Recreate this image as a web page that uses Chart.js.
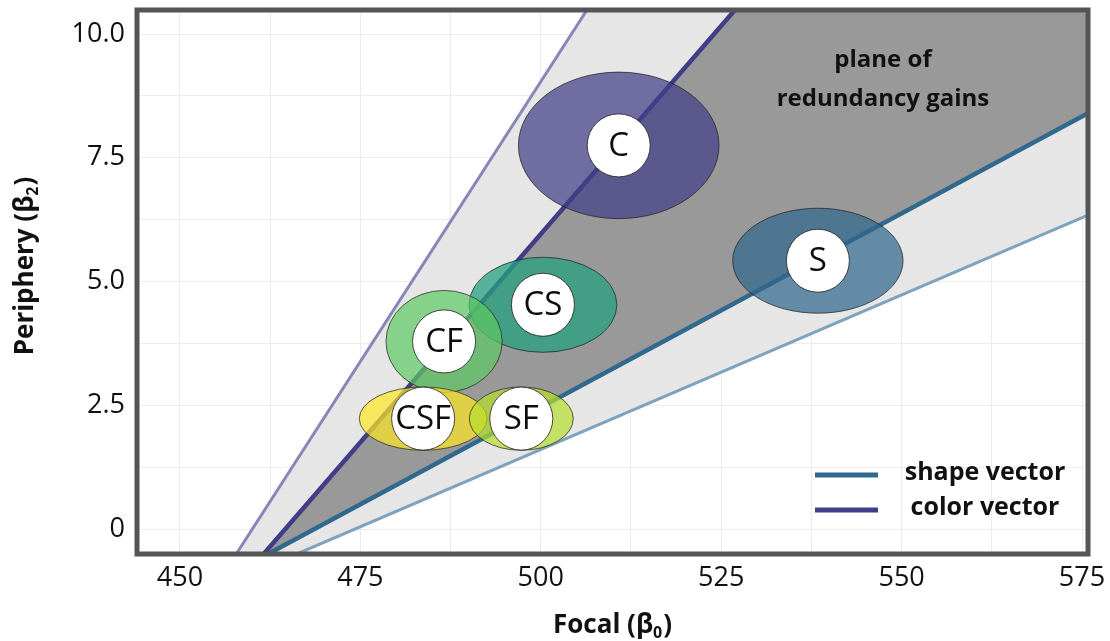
<!DOCTYPE html>
<html>
<head>
<meta charset="utf-8">
<title>Plane of redundancy gains</title>
<script src="https://cdn.jsdelivr.net/npm/chart.js@4/dist/chart.umd.min.js"></script>
<style>
  html, body { margin: 0; padding: 0; background: #fff; }
  #wrap { width: 1110px; height: 641px; }
</style>
</head>
<body>
<div id="wrap"><canvas id="chart"></canvas></div>
<script>
// axis extents: focal weight (β0) vs periphery weight (β2)
const xMin = 444.05, xMax = 575.83;
const yMin = -0.505, yMax = 10.485;

// tick labels
const xTickValues = [450, 475, 500, 525, 550, 575];
const yTickValues = [0, 2.5, 5, 7.5, 10];
const yTickLabels = ['0', '2.5', '5.0', '7.5', '10.0'];

// vectors and their outer bounds, [x, y] start and end
const colorVector = [[461.6, -0.505], [526.9, 10.485]];
const colorBound = [[457.8, -0.505], [506.4, 10.485]];
const shapeVector = [[462.2, -0.505], [575.83, 8.40]];
const shapeBound = [[466.2, -0.505], [575.83, 6.34]];

// conditions: centre and spread (semi-axes) in data units
const conditions = ['C', 'S', 'CS', 'CF', 'CSF', 'SF'];
const centerX = [510.8, 538.4, 500.3, 486.6, 483.7, 497.3];
const centerY = [7.75, 5.42, 4.53, 3.79, 2.23, 2.23];
const spreadX = [13.9, 11.8, 10.25, 8.05, 8.85, 7.2];
const spreadY = [1.48, 1.06, 0.96, 1.03, 0.64, 0.64];

const legendLabels = ['shape vector', 'color vector'];
const planeLabel = ['plane of', 'redundancy gains'];

const FONT = "'Open Sans', 'Noto Sans', sans-serif";
const ellipseColors = [
  'rgba(65, 62, 134, 0.72)',
  'rgba(49, 104, 142, 0.72)',
  'rgba(38, 160, 125, 0.75)',
  'rgba(94, 201, 98, 0.70)',
  'rgba(253, 231, 37, 0.70)',
  'rgba(181, 222, 43, 0.70)',
];
const SHAPE_COLOR = '#31688e';
const COLOR_COLOR = '#413d88';

const pts = (seg) => seg.map(([x, y]) => ({ x, y }));
const farCorner = { x: xMax + 5, y: yMax + 1 };

// label with a lowered digit, e.g. β₀
function drawSubscripted(ctx, [head, sub, tail], cx, baseY, size) {
  const big = `bold ${size}px ${FONT}`;
  const small = `bold ${Math.round(size * 0.62)}px ${FONT}`;
  ctx.font = big;
  const w1 = ctx.measureText(head).width;
  const w3 = ctx.measureText(tail).width;
  ctx.font = small;
  const w2 = ctx.measureText(sub).width + 1;
  let x = cx - (w1 + w2 + w3) / 2;
  ctx.textAlign = 'left';
  ctx.textBaseline = 'alphabetic';
  ctx.font = big;
  ctx.fillText(head, x, baseY);
  x += w1;
  ctx.font = small;
  ctx.fillText(sub, x, baseY + size * 0.18);
  x += w2;
  ctx.font = big;
  ctx.fillText(tail, x, baseY);
}

const conditionMarks = {
  id: 'conditionMarks',
  afterDatasetsDraw(chart) {
    const { ctx, chartArea: a, scales: { x, y } } = chart;
    ctx.save();
    ctx.beginPath();
    ctx.rect(a.left, a.top, a.width, a.height);
    ctx.clip();
    const spots = conditions.map((name, i) => {
      const cx = x.getPixelForValue(centerX[i]);
      const cy = y.getPixelForValue(centerY[i]);
      const rx = Math.abs(x.getPixelForValue(centerX[i] + spreadX[i]) - cx);
      const ry = Math.abs(y.getPixelForValue(centerY[i] + spreadY[i]) - cy);
      ctx.beginPath();
      ctx.ellipse(cx, cy, rx, ry, 0, 0, Math.PI * 2);
      ctx.fillStyle = ellipseColors[i];
      ctx.fill();
      ctx.lineWidth = 1;
      ctx.strokeStyle = 'rgba(30, 30, 30, 0.7)';
      ctx.stroke();
      return { name, cx, cy };
    });
    spots.forEach(({ name, cx, cy }) => {
      ctx.beginPath();
      ctx.arc(cx, cy, 31.5, 0, Math.PI * 2);
      ctx.fillStyle = '#fff';
      ctx.fill();
      ctx.lineWidth = 1;
      ctx.strokeStyle = 'rgba(30, 30, 30, 0.8)';
      ctx.stroke();
      ctx.fillStyle = '#0d0d0d';
      ctx.font = `33px ${FONT}`;
      ctx.textAlign = 'center';
      ctx.textBaseline = 'middle';
      ctx.fillText(name, cx, cy + 1);
    });
    ctx.restore();
  },
  afterDraw(chart) {
    const { ctx, chartArea: a } = chart;
    ctx.save();

    // frame
    ctx.lineWidth = 5;
    ctx.strokeStyle = '#555';
    ctx.strokeRect(a.left, a.top, a.right - a.left, a.bottom - a.top);

    // annotation
    ctx.fillStyle = '#111';
    ctx.font = `bold 24px ${FONT}`;
    ctx.textAlign = 'center';
    ctx.textBaseline = 'middle';
    ctx.fillText(planeLabel[0], a.right - 205, a.top + 50);
    ctx.fillText(planeLabel[1], a.right - 205, a.top + 89);

    // legend
    const legendColors = [SHAPE_COLOR, COLOR_COLOR];
    legendLabels.forEach((label, i) => {
      const ly = a.bottom - 79 + i * 35;
      ctx.beginPath();
      ctx.moveTo(a.right - 273, ly);
      ctx.lineTo(a.right - 210, ly);
      ctx.lineWidth = 5;
      ctx.strokeStyle = legendColors[i];
      ctx.stroke();
      ctx.font = `bold 25px ${FONT}`;
      ctx.fillText(label, a.right - 103, ly - 2);
    });

    // axis titles
    drawSubscripted(ctx, ['Focal (β', '0', ')'], (a.left + a.right) / 2, 633, 26);
    ctx.translate(33, (a.top + a.bottom) / 2 - 16);
    ctx.rotate(-Math.PI / 2);
    drawSubscripted(ctx, ['Periphery (β', '2', ')'], 0, 0, 26);
    ctx.restore();
  },
};

const lineSet = (label, seg, color, width, order) => ({
  label, data: pts(seg), borderColor: color, borderWidth: width, fill: false, order,
});

new Chart(document.getElementById('chart'), {
  type: 'line',
  data: {
    datasets: [
      lineSet('shape vector', shapeVector, SHAPE_COLOR, 4.5, 1),
      lineSet('color vector', colorVector, COLOR_COLOR, 4.5, 1),
      lineSet('shape bound', shapeBound, '#80a3bd', 3, 2),
      lineSet('color bound', colorBound, '#8985b7', 3, 2),
      {
        label: 'redundancy plane',
        data: [...pts(colorVector), farCorner, ...pts(shapeVector).reverse()],
        fill: 'shape', backgroundColor: '#999999', borderWidth: 0, order: 3,
      },
      {
        label: 'outer band',
        data: [...pts(colorBound), farCorner, ...pts(shapeBound).reverse()],
        fill: 'shape', backgroundColor: '#e6e6e6', borderWidth: 0, order: 4,
      },
    ],
  },
  options: {
    responsive: true,
    maintainAspectRatio: false,
    animation: false,
    layout: { padding: { left: 0, top: 10, right: 22, bottom: 0 } },
    elements: { point: { radius: 0, hoverRadius: 0 }, line: { tension: 0 } },
    plugins: { legend: { display: false }, tooltip: { enabled: false } },
    events: [],
    scales: {
      x: {
        type: 'linear',
        min: xMin,
        max: xMax,
        afterFit: (s) => {
          s.height = 87;
          s.paddingLeft = 0;
          s.paddingRight = 0;
        },
        border: { display: false },
        grid: { color: '#ececec', lineWidth: 1, drawTicks: false },
        ticks: {
          stepSize: 12.5,
          includeBounds: false,
          autoSkip: false,
          maxRotation: 0,
          padding: 8,
          color: '#111',
          font: { family: FONT, size: 27 },
          callback: (v) => (xTickValues.includes(v) ? String(v) : ''),
        },
      },
      y: {
        type: 'linear',
        min: yMin,
        max: yMax,
        afterFit: (s) => {
          s.width = 137;
          s.paddingTop = 0;
          s.paddingBottom = 0;
        },
        border: { display: false },
        grid: { color: '#ececec', lineWidth: 1, drawTicks: false },
        ticks: {
          stepSize: 1.25,
          includeBounds: false,
          autoSkip: false,
          padding: 12,
          color: '#111',
          font: { family: FONT, size: 27 },
          callback: (v) => {
            const k = yTickValues.indexOf(v);
            return k >= 0 ? yTickLabels[k] : '';
          },
        },
      },
    },
  },
  plugins: [conditionMarks],
});
</script>
</body>
</html>
